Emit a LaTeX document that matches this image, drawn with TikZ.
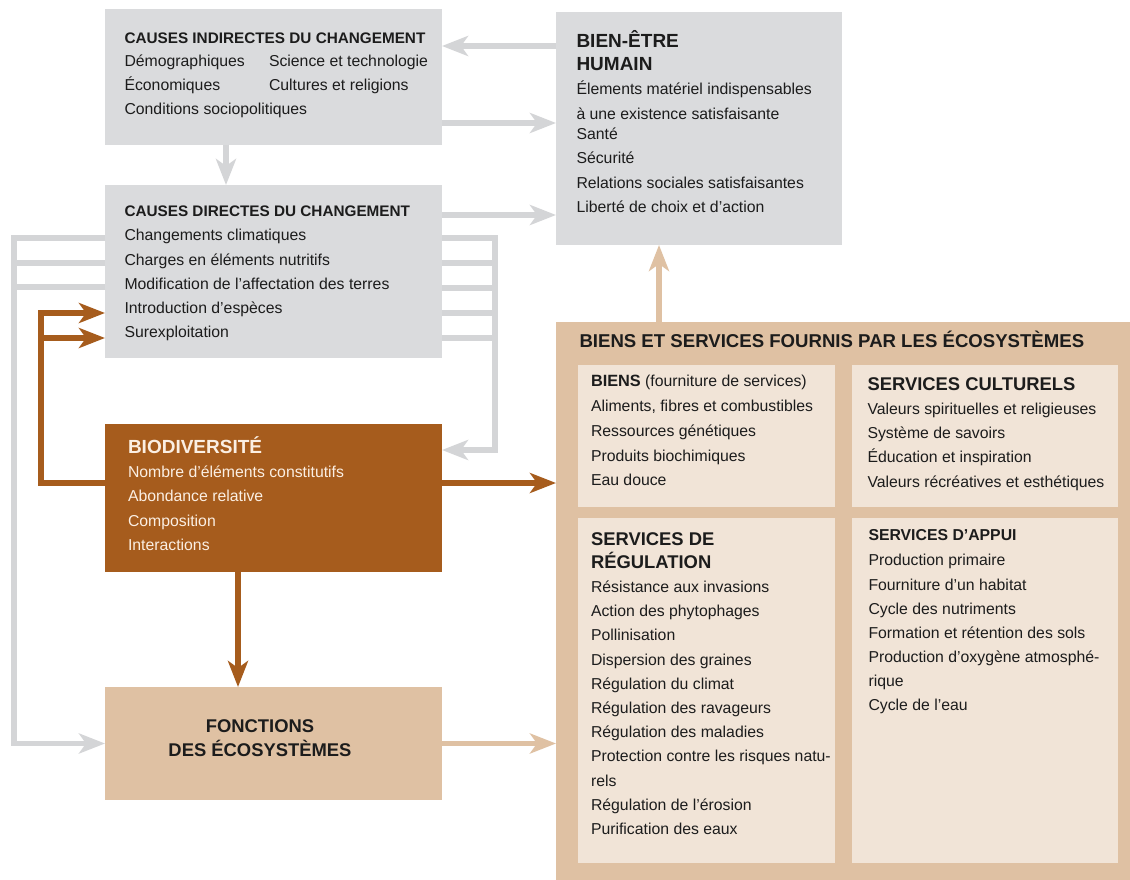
\documentclass[tikz,border=0pt]{standalone}
\usepackage{fontspec}
\setmainfont{Liberation Sans}
\usetikzlibrary{arrows.meta}
\definecolor{boxgray}{HTML}{DADBDD}
\definecolor{arrgray}{HTML}{D4D5D7}
\definecolor{bioorange}{HTML}{A65C1D}
\definecolor{tanbox}{HTML}{DFC1A3}
\definecolor{creambox}{HTML}{F1E4D7}
\definecolor{ink}{HTML}{1C1C1C}
\definecolor{biotext}{HTML}{FBEFE3}
\newcommand\FBody{\fontsize{15.8}{19}\selectfont}
\newcommand\FHead{\fontsize{15.3}{19}\selectfont\bfseries}
\newcommand\FBig{\fontsize{19}{22}\selectfont\bfseries}
\newcommand\FSub{\fontsize{18.4}{22}\selectfont\bfseries}
\newcommand\Tx[5][]{\node[tx,#1] (#2) at (#3,#4) {#5};}
\tikzset{
  panel/.style={anchor=north west, inner sep=0pt, outer sep=0pt, draw=none},
  tx/.style={anchor=base west, inner sep=0pt, outer sep=0pt, text=ink, font=\FBody},
  wtx/.style={text=biotext},
  gline/.style={draw=arrgray, line width=5.5pt, line join=miter},
  garrow/.style={gline, -{Stealth[length=26pt,width=20pt,inset=7pt]}},
  oline/.style={draw=bioorange, line width=5.5pt, line join=miter},
  oarrow/.style={oline, -{Stealth[length=26pt,width=20pt,inset=7pt]}},
  tarrow/.style={draw=tanbox, line width=5.5pt, -{Stealth[length=26pt,width=20pt,inset=7pt]}},
}
\begin{document}
\begin{tikzpicture}[x=1pt,y=-1pt]
\useasboundingbox (0,0) rectangle (1130,880);
\fill[white] (0,0) rectangle (1130,880);
% panels
\node[panel, fill=boxgray, minimum width=337pt, minimum height=136pt] (ind) at (105,9) {};
\node[panel, fill=boxgray, minimum width=337pt, minimum height=173pt] (dir) at (105,185) {};
\node[panel, fill=bioorange, minimum width=337pt, minimum height=148pt] (bio) at (105,424) {};
\node[panel, fill=tanbox, minimum width=337pt, minimum height=113pt] (fon) at (105,687) {};
\node[panel, fill=boxgray, minimum width=286pt, minimum height=233pt] (bien) at (556,12) {};
\node[panel, fill=tanbox, minimum width=574pt, minimum height=558pt] (big) at (556,322) {};
\node[panel, fill=creambox, minimum width=257pt, minimum height=142pt] (biens) at (578,365) {};
\node[panel, fill=creambox, minimum width=266pt, minimum height=142pt] (cult) at (852,365) {};
\node[panel, fill=creambox, minimum width=257pt, minimum height=345pt] (reg) at (578,518) {};
\node[panel, fill=creambox, minimum width=266pt, minimum height=345pt] (appui) at (852,518) {};
% bend points
\coordinate (L1) at (14,238);
\coordinate (R1) at (495,238);
\coordinate (Lo) at (41,483);
% gray connectors
\draw[garrow] (bien.west |- 0,46) -- (ind.east |- 0,46);
\draw[garrow] (ind.east |- 0,123) -- (bien.west |- 0,123);
\draw[garrow] (ind.south -| 226,0) -- (dir.north -| 226,0);
\draw[garrow] (dir.east |- 0,215) -- (bien.west |- 0,215);
\draw[garrow] (dir.west |- L1) -- (L1) -- (L1 |- fon.west) -- (fon.west);
\draw[gline] (dir.west |- 0,263) -- (L1 |- 0,263);
\draw[gline] (dir.west |- 0,287) -- (L1 |- 0,287);
\draw[garrow] (dir.east |- R1) -- (R1) -- (R1 |- 0,450) -- (bio.east |- 0,450);
\draw[gline] (dir.east |- 0,263) -- (R1 |- 0,263);
\draw[gline] (dir.east |- 0,288) -- (R1 |- 0,288);
\draw[gline] (dir.east |- 0,313) -- (R1 |- 0,313);
\draw[gline] (dir.east |- 0,338) -- (R1 |- 0,338);
% orange connectors
\draw[oarrow] (bio.west |- Lo) -- (Lo) -- (Lo |- 0,313) -- (dir.west |- 0,313);
\draw[oarrow] (Lo |- 0,338) -- (dir.west |- 0,338);
\draw[oarrow] (bio.east |- 0,483) -- (big.west |- 0,483);
\draw[oarrow] (bio.south -| 238,0) -- (fon.north -| 238,0);
% tan connectors
\draw[tarrow] (fon.east) -- (big.west |- fon.east);
\draw[tarrow] (big.north -| 659,0) -- (bien.south -| 659,0);
% texts: indirect causes
\Tx[font=\FHead]{ind-t}{124.5}{43.3}{CAUSES INDIRECTES DU CHANGEMENT}
\Tx{ind-1}{124.5}{66.7}{Démographiques}
\Tx{ind-2}{269}{66.7}{Science et technologie}
\Tx{ind-3}{124.5}{90.7}{Économiques}
\Tx{ind-4}{269}{90.7}{Cultures et religions}
\Tx{ind-5}{124.5}{115}{Conditions sociopolitiques}
% direct causes
\Tx[font=\FHead]{dir-t}{124.5}{216}{CAUSES DIRECTES DU CHANGEMENT}
\Tx{dir-1}{124.5}{240.7}{Changements climatiques}
\Tx{dir-2}{124.5}{265}{Charges en éléments nutritifs}
\Tx{dir-3}{124.5}{289}{Modification de l’affectation des terres}
\Tx{dir-4}{124.5}{313}{Introduction d’espèces}
\Tx{dir-5}{124.5}{337}{Surexploitation}
% biodiversity
\Tx[wtx,font=\FBig]{bio-t}{128}{453}{BIODIVERSITÉ}
\Tx[wtx]{bio-1}{128}{477}{Nombre d’éléments constitutifs}
\Tx[wtx]{bio-2}{128}{501.5}{Abondance relative}
\Tx[wtx]{bio-3}{128}{526}{Composition}
\Tx[wtx]{bio-4}{128}{550}{Interactions}
% functions
\Tx[anchor=base,font=\FSub]{fon-1}{260}{732.3}{FONCTIONS}
\Tx[anchor=base,font=\FSub]{fon-2}{260}{756.7}{DES ÉCOSYSTÈMES}
% well-being
\Tx[font=\FBig]{bien-t1}{576.5}{47.3}{BIEN-ÊTRE}
\Tx[font=\FBig]{bien-t2}{576.5}{70.7}{HUMAIN}
\Tx{bien-1}{576.5}{95}{Élements matériel indispensables}
\Tx{bien-2}{576.5}{120}{à une existence satisfaisante}
\Tx{bien-3}{576.5}{139.3}{Santé}
\Tx{bien-4}{576.5}{163.3}{Sécurité}
\Tx{bien-5}{576.5}{188.3}{Relations sociales satisfaisantes}
\Tx{bien-6}{576.5}{212.7}{Liberté de choix et d’action}
% ecosystem goods and services
\Tx[font=\fontsize{18.6}{22}\selectfont\bfseries]{big-t}{579.5}{347.3}{BIENS ET SERVICES FOURNIS PAR LES ÉCOSYSTÈMES}
\Tx{biens-t}{591}{386.7}{{\fontsize{16.3}{19}\selectfont\bfseries BIENS} (fourniture de services)}
\Tx{biens-1}{591}{411.7}{Aliments, fibres et combustibles}
\Tx{biens-2}{591}{436}{Ressources génétiques}
\Tx{biens-3}{591}{461}{Produits biochimiques}
\Tx{biens-4}{591}{485}{Eau douce}
\Tx[font=\FSub]{cult-t}{867.5}{390.7}{SERVICES CULTURELS}
\Tx{cult-1}{867.5}{414}{Valeurs spirituelles et religieuses}
\Tx{cult-2}{867.5}{438.3}{Système de savoirs}
\Tx{cult-3}{867.5}{462.7}{Éducation et inspiration}
\Tx{cult-4}{867.5}{487.3}{Valeurs récréatives et esthétiques}
\Tx[font=\FSub]{reg-t1}{591}{545}{SERVICES DE}
\Tx[font=\FSub]{reg-t2}{591}{568.3}{RÉGULATION}
\Tx{reg-1}{591}{592.7}{Résistance aux invasions}
\Tx{reg-2}{591}{616.7}{Action des phytophages}
\Tx{reg-3}{591}{640.7}{Pollinisation}
\Tx{reg-4}{591}{665}{Dispersion des graines}
\Tx{reg-5}{591}{689.3}{Régulation du climat}
\Tx{reg-6}{591}{713.3}{Régulation des ravageurs}
\Tx{reg-7}{591}{737.3}{Régulation des maladies}
\Tx{reg-8}{591}{761.7}{Protection contre les risques natu-}
\Tx{reg-9}{591}{786}{rels}
\Tx{reg-10}{591}{810}{Régulation de l’érosion}
\Tx{reg-11}{591}{834}{Purification des eaux}
\Tx[font=\fontsize{15.8}{19}\selectfont\bfseries]{app-t}{868.5}{540.7}{SERVICES D’APPUI}
\Tx{app-1}{868.5}{565.7}{Production primaire}
\Tx{app-2}{868.5}{590}{Fourniture d’un habitat}
\Tx{app-3}{868.5}{614}{Cycle des nutriments}
\Tx{app-4}{868.5}{638.3}{Formation et rétention des sols}
\Tx{app-5}{868.5}{662.3}{Production d’oxygène atmosphé-}
\Tx{app-6}{868.5}{686.7}{rique}
\Tx{app-7}{868.5}{710.7}{Cycle de l’eau}
\end{tikzpicture}
\end{document}
